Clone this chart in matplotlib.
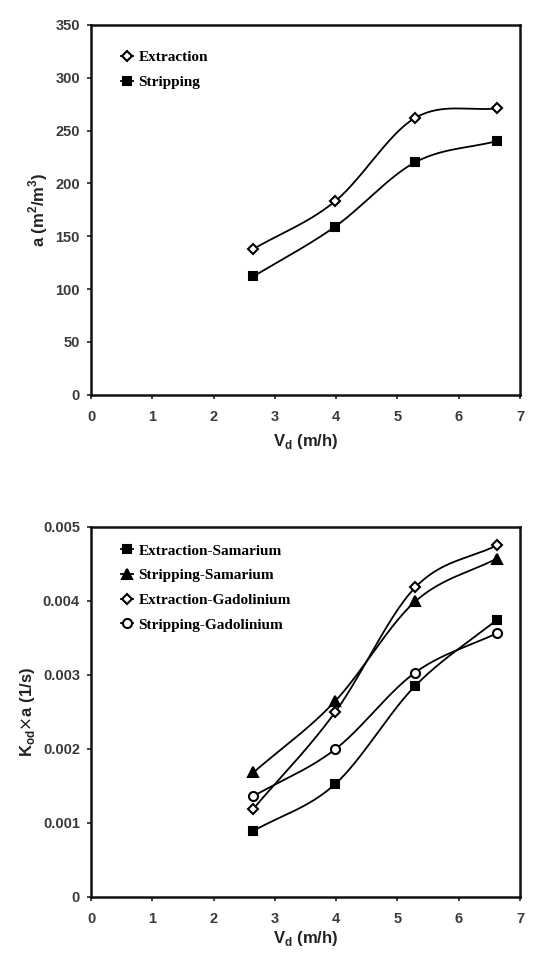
import numpy as np
import matplotlib.pyplot as plt
from matplotlib.font_manager import FontProperties

# dispersed phase velocity (m/h)
vd = [2.65, 3.98, 5.29, 6.62]

# specific interfacial area a (m2/m3)
a_extraction = [138, 183, 262, 271]
a_stripping = [112, 159, 220, 240]

# volumetric mass transfer coefficient Kod*a (1/s)
k_ext_sm = [0.00089, 0.00152, 0.00285, 0.00374]
k_str_sm = [0.00168, 0.00264, 0.00399, 0.00457]
k_ext_gd = [0.00119, 0.00249, 0.00418, 0.00475]
k_str_gd = [0.00136, 0.00199, 0.00303, 0.00356]


def smooth(x, y, n=60):
    """Catmull-Rom style hermite curve through the points"""
    x = np.asarray(x, float)
    y = np.asarray(y, float)
    m = len(x)
    d = np.zeros(m)
    d[0] = (y[1] - y[0]) / (x[1] - x[0])
    d[-1] = (y[-1] - y[-2]) / (x[-1] - x[-2])
    for i in range(1, m - 1):
        d[i] = (y[i + 1] - y[i - 1]) / (x[i + 1] - x[i - 1])
    xs_all, ys_all = [], []
    for i in range(m - 1):
        h = x[i + 1] - x[i]
        t = np.linspace(0, 1, n)
        h00 = 2 * t**3 - 3 * t**2 + 1
        h10 = t**3 - 2 * t**2 + t
        h01 = -2 * t**3 + 3 * t**2
        h11 = t**3 - t**2
        xs_all.append(x[i] + t * h)
        ys_all.append(h00 * y[i] + h10 * h * d[i] + h01 * y[i + 1] + h11 * h * d[i + 1])
    return np.concatenate(xs_all), np.concatenate(ys_all)


tick_font = FontProperties(family='Liberation Sans', weight='bold', size=10.5)
label_font = FontProperties(family='Liberation Sans', weight='bold', size=12)
legend_font = FontProperties(family='Liberation Serif', weight='bold', size=11)
ink = '#222222'


def style_axes(ax):
    for s in ax.spines.values():
        s.set_linewidth(1.8)
        s.set_color('#111111')
    ax.tick_params(direction='out', length=3, width=1.2, colors=ink)
    ax.tick_params(axis='x', pad=8)
    ax.tick_params(axis='y', pad=5)
    for lab in ax.get_xticklabels() + ax.get_yticklabels():
        lab.set_fontproperties(tick_font)
        lab.set_color('#3a3a3a')


def draw(ax, x, y, marker, face, label, ms=6):
    xs, ys = smooth(x, y)
    ax.plot(xs, ys, color='black', lw=1.3, zorder=2)
    ax.plot(x, y, linestyle='none', marker=marker, ms=ms, mfc=face,
            mec='black', mew=1.5, zorder=3)
    ax.plot([], [], color='black', lw=1.3, marker=marker, ms=ms, mfc=face,
            mec='black', mew=1.5, label=label)


fig = plt.figure(figsize=(5.52, 9.56), dpi=100)
ax1 = fig.add_axes([0.165, 0.587, 0.777, 0.387])
ax2 = fig.add_axes([0.165, 0.062, 0.777, 0.387])

# top: interfacial area
draw(ax1, vd, a_extraction, 'D', 'white', 'Extraction', ms=5.5)
draw(ax1, vd, a_stripping, 's', 'black', 'Stripping')
ax1.set_xlim(0, 7)
ax1.set_ylim(0, 350)
ax1.set_xticks(range(0, 8))
ax1.set_yticks(range(0, 351, 50))
ax1.set_xlabel(r'V$_\mathregular{d}$ (m/h)', fontproperties=label_font, color=ink, labelpad=6)
ax1.set_ylabel(r'a (m$^\mathregular{2}$/m$^\mathregular{3}$)', fontproperties=label_font, color=ink)
style_axes(ax1)
ax1.legend(loc='upper left', frameon=False, prop=legend_font, handlelength=0.8,
           handletextpad=0.35, borderaxespad=0.0, labelspacing=0.75,
           bbox_to_anchor=(0.055, 0.948))

# bottom: mass transfer coefficient
draw(ax2, vd, k_ext_sm, 's', 'black', 'Extraction-Samarium')
draw(ax2, vd, k_str_sm, '^', 'black', 'Stripping-Samarium', ms=6.5)
draw(ax2, vd, k_ext_gd, 'D', 'white', 'Extraction-Gadolinium', ms=5.5)
draw(ax2, vd, k_str_gd, 'o', 'white', 'Stripping-Gadolinium', ms=6.5)
ax2.set_xlim(0, 7)
ax2.set_ylim(0, 0.005)
ax2.set_xticks(range(0, 8))
ax2.set_yticks([0, 0.001, 0.002, 0.003, 0.004, 0.005])
ax2.set_yticklabels(['0', '0.001', '0.002', '0.003', '0.004', '0.005'])
ax2.set_xlabel(r'V$_\mathregular{d}$ (m/h)', fontproperties=label_font, color=ink, labelpad=2)
ax2.set_ylabel(r'K$_\mathregular{od}$$\times$a (1/s)', fontproperties=label_font, color=ink)
style_axes(ax2)
ax2.legend(loc='upper left', frameon=False, prop=legend_font, handlelength=0.8,
           handletextpad=0.35, borderaxespad=0.0, labelspacing=0.72,
           bbox_to_anchor=(0.055, 0.97))

fig.savefig('out.png', dpi=100)
